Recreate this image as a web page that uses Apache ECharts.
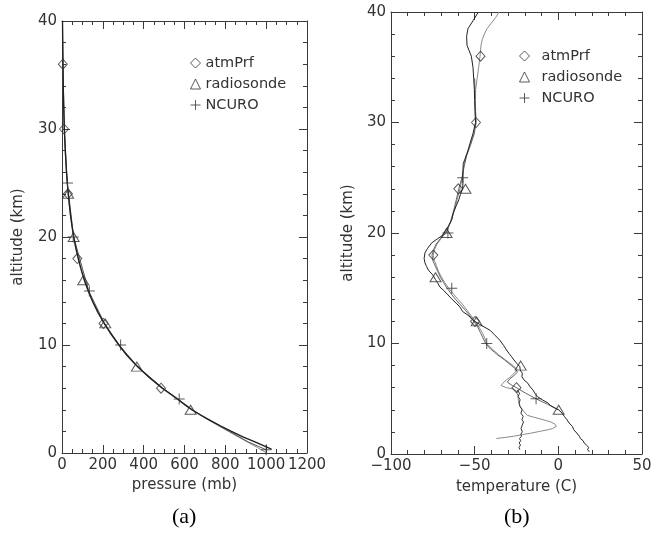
<!DOCTYPE html>
<html>
<head>
<meta charset="utf-8">
<script src="https://cdn.jsdelivr.net/npm/echarts@6/dist/echarts.min.js"></script>
<style>
  html, body { margin: 0; padding: 0; background: #fff; }
  #chart { width: 662px; height: 538px; }
</style>
</head>
<body>
<div id="chart"></div>
<script>
// ---------- panel (a): pressure vs altitude ----------
// radiosonde pressure profile (km, mb)
const pAltSonde = [0.35, 0.5, 1, 1.5, 2, 2.5, 3, 3.5, 4, 4.5, 5, 6, 7, 8, 9, 10, 11, 12, 13, 14, 15, 16, 17, 18, 19, 20, 21, 22, 23, 24, 25, 26, 28, 30, 32, 34, 36, 38, 40];
const pSonde    = [1027, 1009, 948, 886, 830, 778, 728, 681, 637, 600, 566, 492, 428, 370, 320, 279, 241, 207, 177, 151, 129, 110, 94, 80, 68, 58, 49, 42, 36, 30.5, 26, 22, 16, 11.5, 8.5, 6.2, 4.6, 3.4, 2.5];
// atmPrf pressure profile
const pAltAtm = [0, 0.5, 1, 1.5, 2, 2.5, 3, 3.5, 4, 4.5, 5, 6, 7, 8, 9, 10, 11, 12, 13, 14, 15, 16, 17, 18, 19, 20, 22, 24, 26, 28, 30, 32, 34, 36, 38, 40];
const pAtm    = [1003, 958, 910, 862, 815, 768, 722, 677, 633, 597, 562, 488, 424, 367, 318, 276, 238, 205, 175, 149, 127, 108, 92, 78, 66, 56, 41, 30, 21.5, 15.5, 11, 8, 5.8, 4.2, 3.1, 2.3];
// NCURO pressure profile
const pAltNcuro = [0.3, 1, 2, 3, 4, 5, 6, 8, 10, 12, 15, 20, 25, 30, 35, 40];
const pNcuro    = [1000, 915, 820, 726, 638, 568, 494, 371, 280, 208, 131, 57, 26, 11.5, 5.4, 2.5];

// marker levels, panel (a)
const mkAtmAltA   = [36, 30, 24, 18, 12, 6];
const mkAtmP      = [4, 10, 29, 75, 203, 485];
const mkSondeAltA = [24, 20, 16, 12, 8, 4];
const mkSondeP    = [30, 57, 104, 212, 367, 630];
const mkNcuroAltA = [25, 20, 15, 10, 5, 0.3];
const mkNcuroP    = [27, 55, 134, 287, 574, 1000];

// ---------- panel (b): temperature vs altitude ----------
const tAltSonde = [0.2, 0.4, 0.6, 0.8, 1.0, 1.2, 1.4, 1.6, 1.9, 2.2, 2.5, 2.8, 3.1, 3.4, 3.7, 4.0, 4.2, 4.4, 4.6, 4.9, 5.2, 5.5, 5.8, 6.1, 6.4, 6.7, 7.0, 7.3, 7.6, 7.9, 8.2, 8.5, 8.8, 9.1, 9.4, 9.8, 10.3, 10.8, 11.2, 11.6, 12.1, 12.5, 12.9, 13.3, 13.6, 14.0, 14.4, 14.8, 15.1, 15.5, 15.8, 16.2, 16.6, 16.95, 17.3, 17.7, 18.2, 18.6, 19.1, 19.5, 19.8, 20.2, 20.6, 21.2, 21.8, 22.4, 23.0, 23.5, 24.0, 24.5, 25.0, 25.7, 26.3, 27.2, 28.1, 29.0, 30.0, 31.0, 32.0, 33.0, 34.0, 35.0, 36.0, 37.0, 37.8, 38.5, 39.2, 40.0];
const tSonde    = [18.5, 17.5, 18.2, 16.8, 15.5, 14.8, 13.2, 12.6, 11.0, 9.2, 8.4, 6.5, 5.2, 3.6, 2.2, 0.2, -2.5, -4.8, -6.0, -9.5, -12.6, -14.0, -15.2, -17.0, -18.2, -20.5, -21.8, -21.5, -22.8, -23.0, -24.8, -26.5, -27.9, -29.5, -30.9, -32.6, -35.0, -38.2, -40.8, -45.5, -51.0, -53.5, -57.2, -58.8, -60.7, -63.5, -66.0, -68.5, -70.7, -72.2, -73.5, -75.0, -77.5, -78.7, -79.7, -80.2, -79.7, -78.2, -75.7, -72.0, -69.0, -67.5, -65.8, -63.7, -62.8, -61.2, -59.5, -58.5, -57.2, -57.0, -57.0, -57.0, -56.8, -54.5, -52.8, -51.0, -49.5, -49.8, -50.0, -50.2, -50.6, -51.0, -52.0, -54.6, -54.8, -54.0, -51.0, -47.8];
const tAltAtm = [40, 39.5, 39, 38.5, 38, 37.5, 37, 36, 35, 34, 33, 32, 31, 30, 29, 28, 27, 26, 25, 24, 23, 22, 21, 20, 19.5, 19, 18.5, 18, 17.5, 17, 16.5, 16, 15.5, 15, 14.5, 14, 13.5, 13, 12.5, 12, 11.5, 11, 10.5, 10, 9.5, 9, 8.5, 8, 7.6, 7.3, 7.0, 6.7, 6.4, 6.2, 6.0, 5.9, 5.7, 5.3, 4.8, 4.3, 3.9, 3.5, 3.3, 3.1, 2.9, 2.7, 2.5, 2.3, 2.2, 2.05, 1.9, 1.75, 1.6, 1.5, 1.4];
const tAtm    = [-35.4, -37.5, -40.0, -42.6, -44.2, -45.5, -46.2, -46.8, -47.6, -48.5, -49.4, -49.6, -49.4, -49.0, -50.5, -52.6, -55.2, -56.5, -57.4, -58.8, -60.5, -62.2, -64.2, -67.5, -70.0, -72.5, -74.0, -74.8, -74.0, -72.8, -71.5, -69.8, -67.8, -65.5, -62.8, -60.0, -57.0, -54.5, -52.0, -49.8, -47.5, -45.5, -44.0, -42.8, -39.5, -35.8, -31.5, -27.0, -24.5, -26.5, -28.5, -31.0, -33.2, -34.2, -31.0, -27.5, -25.0, -24.2, -23.8, -22.8, -21.0, -18.5, -14.0, -9.0, -4.5, -2.0, -1.2, -3.5, -6.0, -11.0, -16.0, -21.5, -27.0, -32.0, -37.0];
const tAltNcuro = [34, 33, 32, 31, 30, 29, 28, 27, 26, 25, 24, 23, 22, 21, 20, 19.5, 19, 18.5, 18, 17.5, 17, 16.5, 16, 15.5, 15, 14.5, 14, 13.5, 13, 12.5, 12, 11.5, 11, 10.5, 10, 9.5, 9, 8.5, 8.0, 7.7, 7.4, 7.1, 6.8, 6.5, 6.2, 6.0, 5.5, 5.0, 4.5, 4.0];
const tNcuro    = [-50.0, -49.8, -49.8, -49.6, -49.4, -50.2, -52.4, -54.8, -56.3, -57.6, -59.5, -61.0, -62.6, -64.5, -67.0, -70.5, -73.0, -74.5, -75.5, -75.0, -73.5, -72.0, -70.5, -68.5, -66.5, -64.0, -61.5, -58.5, -55.5, -52.8, -50.5, -48.2, -46.6, -45.0, -43.5, -40.5, -36.5, -32.0, -28.0, -25.5, -24.5, -26.5, -29.0, -30.5, -27.5, -25.0, -19.5, -13.3, -6.5, 0.0];
// lowest-layer retrieval below 6 km
const tAltLow = [5.8, 5.5, 5.2, 4.9, 4.6, 4.3, 4.0, 3.7, 3.4, 3.1, 2.9, 2.6, 2.3, 2.0, 1.8, 1.6, 1.4, 1.2, 1.0, 0.8, 0.6, 0.4];
const tLow    = [-24.5, -23.2, -24.0, -22.8, -23.5, -22.9, -21.6, -22.4, -21.0, -21.8, -20.8, -21.6, -22.3, -21.5, -22.4, -22.0, -23.2, -22.5, -23.4, -22.6, -23.5, -23.0];

// marker levels, panel (b)
const mkAtmAltB   = [36, 30, 24, 18, 12, 6];
const mkAtmT      = [-46.5, -49.2, -59.8, -74.7, -49.8, -25.0];
const mkSondeAltB = [24, 20, 16, 12, 8, 4];
const mkSondeT    = [-55.5, -66.8, -73.4, -48.8, -22.5, 0.2];
const mkNcuroAltB = [25, 20, 15, 10, 5];
const mkNcuroT    = [-57.2, -66.0, -63.7, -42.8, -13.3];

const legendNames = ['atmPrf', 'radiosonde', 'NCURO'];

// ---------- helpers ----------
const pairs = (xs, ys) => xs.map((x, i) => [x, ys[i]]);
const FONT = 'DejaVu Sans';
const AX = '#3a3a3a';
const LBL = '#333';
const PLUS = 'path://M0,5L10,5M5,0L5,10';

const markerStyle = { color: 'rgba(0,0,0,0)', borderColor: '#333', borderWidth: 1 };
const symbolFor = { atmPrf: 'diamond', radiosonde: 'triangle', NCURO: PLUS };
const sizeFor = { atmPrf: [9, 10], radiosonde: [11, 9], NCURO: [11, 11] };

function lineSeries(name, gi, data, color, width) {
  return {
    name, type: 'line', xAxisIndex: gi * 2, yAxisIndex: gi * 2, data,
    showSymbol: false, symbol: 'none', lineStyle: { color, width }, z: 2,
    animation: false, silent: true
  };
}
function markerSeries(name, gi, data) {
  return {
    name, type: 'scatter', xAxisIndex: gi * 2, yAxisIndex: gi * 2, data,
    symbol: symbolFor[name], symbolSize: sizeFor[name],
    itemStyle: markerStyle, z: 5, animation: false
  };
}
const minusFmt = v => String(v).replace('-', '\u2212');

function xAxes(gi, min, max, interval, split, name, nameGap) {
  const base = {
    gridIndex: gi, type: 'value', min, max, interval,
    axisLine: { show: true, onZero: false, lineStyle: { color: AX, width: 1 } },
    axisTick: { show: true, inside: true, length: 8, lineStyle: { color: AX } },
    minorTick: { show: true, splitNumber: split, length: 4, lineStyle: { color: AX } },
    splitLine: { show: false }, minorSplitLine: { show: false }
  };
  return [
    Object.assign({}, base, {
      position: 'bottom',
      axisLabel: { show: true, fontFamily: FONT, fontSize: 15, color: LBL, margin: 5, formatter: minusFmt },
      name, nameLocation: 'middle', nameGap,
      nameTextStyle: { fontFamily: FONT, fontSize: 15, color: LBL }
    }),
    Object.assign({}, base, { position: 'top', axisLabel: { show: false } })
  ];
}
function yAxes(gi, nameGap) {
  const base = {
    gridIndex: gi, type: 'value', min: 0, max: 40, interval: 10,
    axisLine: { show: true, onZero: false, lineStyle: { color: AX, width: 1 } },
    axisTick: { show: true, inside: true, length: 8, lineStyle: { color: AX } },
    minorTick: { show: true, splitNumber: 5, length: 4, lineStyle: { color: AX } },
    splitLine: { show: false }, minorSplitLine: { show: false }
  };
  return [
    Object.assign({}, base, {
      position: 'left',
      axisLabel: { show: true, fontFamily: FONT, fontSize: 15, color: LBL, margin: 5 },
      name: 'altitude (km)', nameLocation: 'middle', nameGap, nameRotate: 90,
      nameTextStyle: { fontFamily: FONT, fontSize: 15, color: LBL }
    }),
    Object.assign({}, base, { position: 'right', axisLabel: { show: false } })
  ];
}
function legendAt(left, top, textPad) {
  return {
    orient: 'vertical', left, top, padding: 0, itemGap: 5,
    itemWidth: 10, itemHeight: 10, selectedMode: false,
    textStyle: { fontFamily: FONT, fontSize: 14.5, color: LBL, lineHeight: 16, padding: [0, 0, 0, textPad] },
    data: legendNames.map(n => ({
      name: n, icon: symbolFor[n],
      itemStyle: { color: 'rgba(0,0,0,0)', borderColor: '#333', borderWidth: 1 }
    }))
  };
}

const chart = echarts.init(document.getElementById('chart'), null, { renderer: 'canvas' });
chart.setOption({
  backgroundColor: '#fff',
  animation: false,
  grid: [
    { left: 62, top: 21, width: 245, height: 432, show: false },
    { left: 391, top: 12, width: 251, height: 442, show: false }
  ],
  xAxis: [
    ...xAxes(0, 0, 1200, 200, 4, 'pressure (mb)', 24),
    ...xAxes(1, -100, 50, 50, 5, 'temperature (C)', 26)
  ],
  yAxis: [
    ...yAxes(0, 36),
    ...yAxes(1, 35)
  ],
  legend: [legendAt(190, 55, 0), legendAt(519, 48, 7)],
  series: [
    lineSeries('atmPrf profile a', 0, pairs(pAtm, pAltAtm), '#8a8a8a', 1),
    lineSeries('NCURO profile a', 0, pairs(pNcuro, pAltNcuro), '#555', 1),
    lineSeries('radiosonde profile a', 0, pairs(pSonde, pAltSonde), '#1e1e1e', 1.3),
    markerSeries('atmPrf', 0, pairs(mkAtmP, mkAtmAltA)),
    markerSeries('radiosonde', 0, pairs(mkSondeP, mkSondeAltA)),
    markerSeries('NCURO', 0, pairs(mkNcuroP, mkNcuroAltA)),

    lineSeries('atmPrf profile b', 1, pairs(tAtm, tAltAtm), '#8a8a8a', 1),
    lineSeries('NCURO profile b', 1, pairs(tNcuro, tAltNcuro), '#666', 1),
    lineSeries('low layer b', 1, pairs(tLow, tAltLow), '#333', 1),
    lineSeries('radiosonde profile b', 1, pairs(tSonde, tAltSonde), '#222', 1),
    markerSeries('atmPrf', 1, pairs(mkAtmT, mkAtmAltB)),
    markerSeries('radiosonde', 1, pairs(mkSondeT, mkSondeAltB)),
    markerSeries('NCURO', 1, pairs(mkNcuroT, mkNcuroAltB))
  ],
  graphic: [
    { type: 'text', left: 172, top: 506, style: { text: '(a)', font: '22px "Liberation Serif"', fill: '#000' } },
    { type: 'text', left: 504, top: 506, style: { text: '(b)', font: '22px "Liberation Serif"', fill: '#000' } }
  ]
});
</script>
</body>
</html>
